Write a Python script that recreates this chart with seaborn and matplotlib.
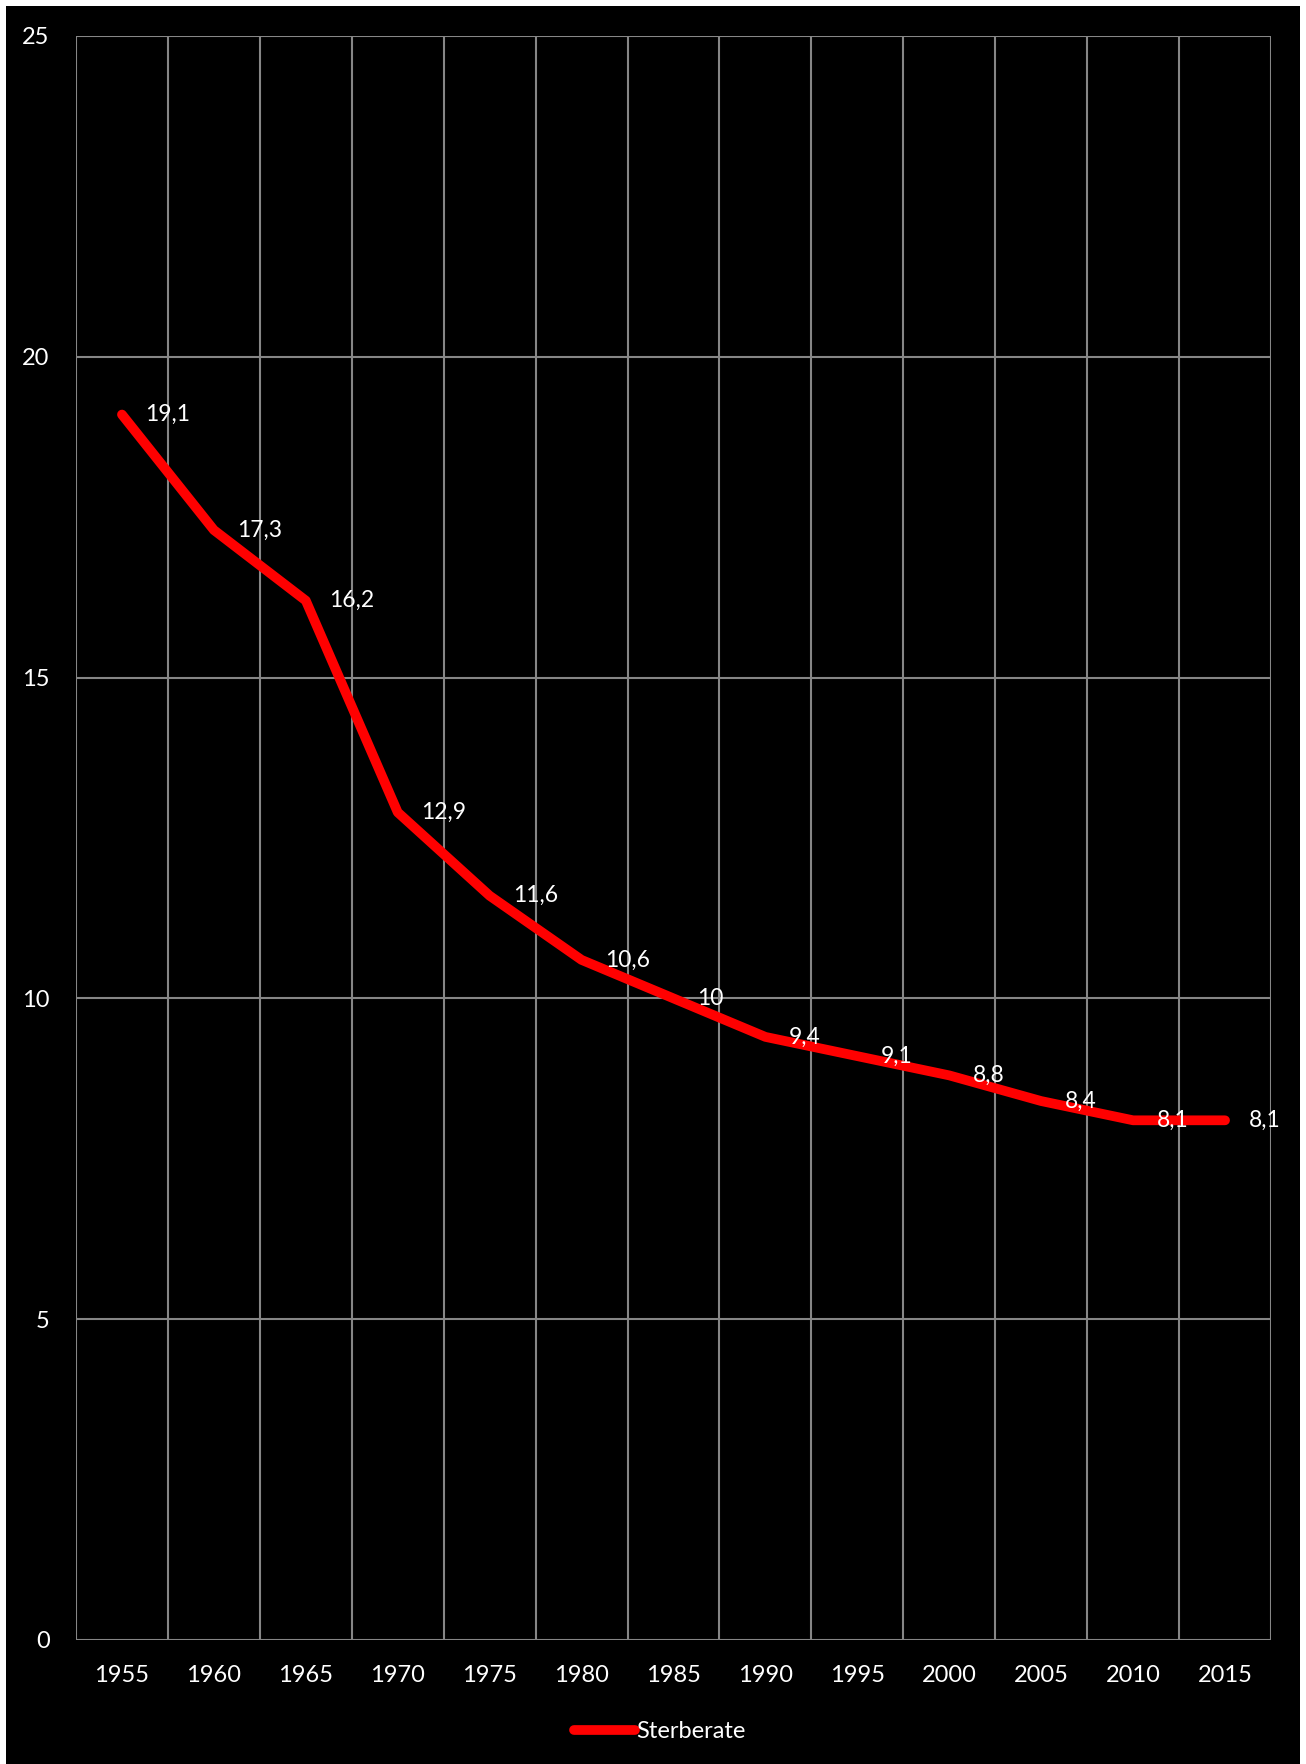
import matplotlib
matplotlib.use("Agg")
import matplotlib.pyplot as plt
from matplotlib.patches import Rectangle
import numpy as np
import pandas as pd
import seaborn as sns

years = ["1955", "1960", "1965", "1970", "1975", "1980", "1985",
         "1990", "1995", "2000", "2005", "2010", "2015"]
sterberate = [19.1, 17.3, 16.2, 12.9, 11.6, 10.6, 10.0,
              9.4, 9.1, 8.8, 8.4, 8.1, 8.1]
y_ticks = [0, 5, 10, 15, 20, 25]

sns.set_style("dark")
plt.rcParams["font.family"] = ["Lato", "DejaVu Sans"]

W, H = 1306, 1764
fig = plt.figure(figsize=(W / 100, H / 100), dpi=100, facecolor="white")
# black background with thin white strip on left, top and right
fig.add_artist(Rectangle((6 / W, 0), (1300 - 6) / W, (H - 6) / H,
                         transform=fig.transFigure, facecolor="black",
                         edgecolor="none", zorder=-10))

ax = fig.add_axes([76 / W, 1 - 1640 / H, (1271 - 76) / W, (1640 - 36) / H])
ax.set_facecolor("black")

df = pd.DataFrame({"pos": np.arange(len(years)), "Sterberate": sterberate})
sns.lineplot(data=df, x="pos", y="Sterberate", ax=ax, color="#ff0000",
             linewidth=7, label="Sterberate", solid_capstyle="round",
             solid_joinstyle="round", legend=False)

for i, v in enumerate(sterberate):
    txt = f"{v:g}".replace(".", ",")
    ax.annotate(txt, (i, v), xytext=(17, 0), textcoords="offset points",
                ha="left", va="center", color="white", fontsize=16.5, zorder=5)

ax.set_xlim(-0.5, len(years) - 0.5)
ax.set_ylim(0, 25)
ax.set_xticks(np.arange(len(years)))
ax.set_xticklabels(years)
ax.set_xticks(np.arange(len(years) + 1) - 0.5, minor=True)
ax.set_yticks(y_ticks)
ax.grid(False)
ax.grid(True, which="minor", axis="x", color="#868686", linewidth=1.5)
ax.grid(True, which="major", axis="y", color="#868686", linewidth=1.5)
ax.set_axisbelow(True)
for s in ax.spines.values():
    s.set_visible(False)
ax.tick_params(axis="both", which="both", length=0, colors="white", labelsize=17)
ax.tick_params(axis="x", pad=18)
ax.tick_params(axis="y", pad=19)
ax.set_xlabel("")
ax.set_ylabel("")

handles, labels = ax.get_lines()[:1], ["Sterberate"]
fig.legend(handles, labels, loc="center", bbox_to_anchor=(0.505, 1 - 1732 / H),
           frameon=False, fontsize=17, labelcolor="white",
           handlelength=2.6, handletextpad=0.05)

fig.savefig("out.png", dpi=100, facecolor=fig.get_facecolor())
